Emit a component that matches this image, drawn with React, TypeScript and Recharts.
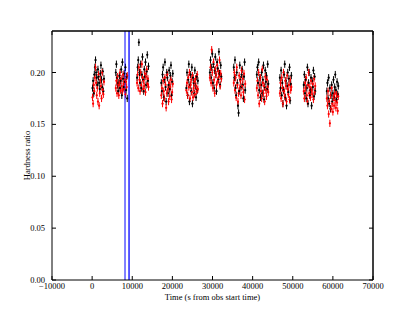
import React from 'react';
import { ScatterChart, Scatter, XAxis, YAxis, ErrorBar, ReferenceLine } from 'recharts';

const times = [
  100, 250, 400, 550, 700, 850, 1000, 1150, 1300, 1450, 1600, 1750, 1900, 2050, 2200, 2350, 2500, 2650, 2800, 2950,
  5900, 6050, 6200, 6350, 6500, 6650, 6800, 6950, 7100, 7250, 7400, 7550, 7700, 7850, 8000, 8150, 8300, 8450, 8600, 8750,
  11200, 11350, 11500, 11650, 11800, 11950, 12100, 12250, 12400, 12550, 12700, 12850, 13000, 13150, 13300, 13450, 13600, 13750, 13900, 14050,
  17250, 17400, 17550, 17700, 17850, 18000, 18150, 18300, 18450, 18600, 18750, 18900, 19050, 19200, 19350, 19500, 19650, 19800, 19950, 20100,
  23500, 23650, 23800, 23950, 24100, 24250, 24400, 24550, 24700, 24850, 25000, 25150, 25300, 25450, 25600, 25750, 25900, 26050, 26200, 26350,
  29350, 29500, 29650, 29800, 29950, 30100, 30250, 30400, 30550, 30700, 30850, 31000, 31150, 31300, 31450, 31600, 31750, 31900, 32050, 32200,
  35300, 35450, 35600, 35750, 35900, 36050, 36200, 36350, 36500, 36650, 36800, 36950, 37100, 37250, 37400, 37550, 37700, 37850, 38000, 38150,
  41050, 41200, 41350, 41500, 41650, 41800, 41950, 42100, 42250, 42400, 42550, 42700, 42850, 43000, 43150, 43300, 43450, 43600, 43750, 43900,
  46800, 46950, 47100, 47250, 47400, 47550, 47700, 47850, 48000, 48150, 48300, 48450, 48600, 48750, 48900, 49050, 49200, 49350, 49500, 49650,
  52750, 52900, 53050, 53200, 53350, 53500, 53650, 53800, 53950, 54100, 54250, 54400, 54550, 54700, 54850, 55000, 55150, 55300, 55450, 55600,
  58500, 58650, 58800, 58950, 59100, 59250, 59400, 59550, 59700, 59850, 60000, 60150, 60300, 60450, 60600, 60750, 60900, 61050, 61200, 61350,
];

const blackHR = [
  0.185, 0.192, 0.180, 0.198, 0.205, 0.212, 0.200, 0.195, 0.188, 0.203, 0.196, 0.190, 0.184, 0.199, 0.207, 0.193, 0.186, 0.201, 0.182, 0.194,
  0.200, 0.208, 0.195, 0.188, 0.182, 0.190, 0.197, 0.185, 0.192, 0.203, 0.178, 0.210, 0.194, 0.186, 0.199, 0.191, 0.205, 0.183, 0.196, 0.175,
  0.195, 0.205, 0.212, 0.229, 0.200, 0.190, 0.208, 0.185, 0.198, 0.215, 0.193, 0.182, 0.203, 0.196, 0.210, 0.188, 0.201, 0.217, 0.192, 0.206,
  0.190, 0.182, 0.198, 0.205, 0.176, 0.193, 0.210, 0.186, 0.172, 0.200, 0.195, 0.180, 0.188, 0.202, 0.184, 0.197, 0.207, 0.178, 0.191, 0.199,
  0.185, 0.200, 0.178, 0.193, 0.208, 0.172, 0.188, 0.198, 0.182, 0.205, 0.170, 0.195, 0.190, 0.180, 0.202, 0.187, 0.176, 0.196, 0.183, 0.192,
  0.200, 0.212, 0.195, 0.205, 0.218, 0.190, 0.208, 0.185, 0.202, 0.215, 0.198, 0.182, 0.210, 0.204, 0.193, 0.220, 0.199, 0.188, 0.207, 0.196,
  0.205, 0.195, 0.212, 0.185, 0.178, 0.200, 0.190, 0.168, 0.161, 0.182, 0.207, 0.193, 0.186, 0.198, 0.203, 0.188, 0.175, 0.196, 0.210, 0.183,
  0.198, 0.205, 0.190, 0.210, 0.183, 0.195, 0.176, 0.188, 0.200, 0.180, 0.193, 0.207, 0.174, 0.186, 0.202, 0.191, 0.197, 0.184, 0.208, 0.189,
  0.195, 0.185, 0.202, 0.178, 0.190, 0.170, 0.183, 0.198, 0.208, 0.176, 0.192, 0.168, 0.187, 0.200, 0.181, 0.194, 0.205, 0.173, 0.189, 0.197,
  0.188, 0.198, 0.180, 0.193, 0.175, 0.185, 0.205, 0.170, 0.190, 0.200, 0.178, 0.183, 0.195, 0.168, 0.192, 0.186, 0.202, 0.177, 0.196, 0.182,
  0.182, 0.190, 0.175, 0.195, 0.170, 0.185, 0.165, 0.178, 0.188, 0.172, 0.180, 0.193, 0.176, 0.186, 0.198, 0.183, 0.174, 0.191, 0.179, 0.187,
];

const redHR = [
  0.176, 0.170, 0.188, 0.182, 0.195, 0.205, 0.190, 0.178, 0.185, 0.172, 0.198, 0.168, 0.180, 0.193, 0.187, 0.175, 0.200, 0.183, 0.179, 0.191,
  0.185, 0.192, 0.180, 0.196, 0.188, 0.178, 0.190, 0.200, 0.183, 0.194, 0.187, 0.182, 0.198, 0.189, 0.184, 0.193, 0.179, 0.191, 0.186, 0.197,
  0.190, 0.198, 0.185, 0.205, 0.193, 0.182, 0.200, 0.188, 0.208, 0.195, 0.184, 0.192, 0.187, 0.199, 0.181, 0.196, 0.203, 0.189, 0.194, 0.186,
  0.178, 0.185, 0.170, 0.192, 0.182, 0.175, 0.195, 0.188, 0.166, 0.180, 0.198, 0.184, 0.172, 0.190, 0.177, 0.186, 0.193, 0.174, 0.181, 0.189,
  0.183, 0.190, 0.178, 0.195, 0.186, 0.200, 0.175, 0.188, 0.193, 0.181, 0.197, 0.176, 0.185, 0.191, 0.179, 0.194, 0.187, 0.182, 0.198, 0.184,
  0.195, 0.205, 0.190, 0.222, 0.200, 0.185, 0.210, 0.193, 0.180, 0.203, 0.198, 0.188, 0.207, 0.192, 0.201, 0.196, 0.212, 0.187, 0.199, 0.194,
  0.190, 0.200, 0.183, 0.195, 0.176, 0.205, 0.188, 0.172, 0.180, 0.197, 0.185, 0.192, 0.178, 0.202, 0.187, 0.194, 0.181, 0.199, 0.174, 0.189,
  0.185, 0.192, 0.178, 0.200, 0.170, 0.188, 0.195, 0.182, 0.175, 0.203, 0.190, 0.180, 0.187, 0.172, 0.196, 0.183, 0.177, 0.193, 0.186, 0.181,
  0.180, 0.190, 0.175, 0.195, 0.185, 0.170, 0.200, 0.182, 0.177, 0.192, 0.187, 0.172, 0.197, 0.184, 0.179, 0.188, 0.174, 0.193, 0.183, 0.186,
  0.182, 0.175, 0.190, 0.185, 0.195, 0.178, 0.172, 0.188, 0.200, 0.180, 0.186, 0.176, 0.192, 0.183, 0.179, 0.189, 0.174, 0.194, 0.181, 0.187,
  0.175, 0.168, 0.182, 0.160, 0.172, 0.151, 0.178, 0.165, 0.185, 0.170, 0.162, 0.176, 0.168, 0.180, 0.173, 0.166, 0.179, 0.171, 0.163, 0.177,
];

const xTicks = [-10000, 0, 10000, 20000, 30000, 40000, 50000, 60000, 70000];
const yTicks = [0, 0.05, 0.1, 0.15, 0.2];
const markerTimes = [8200, 9200];
const timeErr = 180;
const hrErr = 0.0035;

const blackData = times.map((t, i) => ({ t, hr: blackHR[i], xe: timeErr, ye: hrErr }));
const redData = times.map((t, i) => ({ t, hr: redHR[i], xe: timeErr, ye: hrErr }));

const FONT = '"Liberation Serif", "DejaVu Serif", serif';
const tickStyle = { fontSize: 8.5, fontFamily: FONT, fill: '#000' };

const fmtX = (v: number) => (v < 0 ? '\u2212' + Math.abs(v) : String(v));
const fmtY = (v: number) => v.toFixed(2);
const fmtNone = () => '';

const dot = (color: string) => (props: any) => (
  <circle cx={props.cx} cy={props.cy} r={1.1} fill={color} />
);

export default function App() {
  return (
    <div style={{ position: 'absolute', left: 0, top: 0, width: 415, height: 312, background: '#fff' }}>
      <ScatterChart width={415} height={312} margin={{ top: 30, right: 41, bottom: 0, left: 0 }}>
        <XAxis
          xAxisId="b"
          type="number"
          dataKey="t"
          domain={[-10000, 70000]}
          ticks={xTicks}
          tickFormatter={fmtX}
          allowDataOverflow
          height={32}
          tickSize={-4}
          tickMargin={7}
          stroke="#000"
          tick={tickStyle}
          label={{ value: 'Time (s from obs start time)', position: 'insideBottom', offset: 12, style: { fontSize: 8.5, fontFamily: FONT, fill: '#000' } }}
        />
        <XAxis
          xAxisId="top"
          orientation="top"
          type="number"
          dataKey="t"
          domain={[-10000, 70000]}
          ticks={xTicks}
          allowDataOverflow
          height={1}
          tickSize={-4}
          stroke="#000"
          tickFormatter={fmtNone}
          tick={tickStyle}
        />
        <YAxis
          yAxisId="l"
          type="number"
          dataKey="hr"
          domain={[0, 0.24]}
          ticks={yTicks}
          tickFormatter={fmtY}
          allowDataOverflow
          width={52}
          tickSize={-4}
          tickMargin={11}
          stroke="#000"
          tick={tickStyle}
          label={{ value: 'Hardness ratio', angle: -90, position: 'center', dx: 1, style: { fontSize: 8.5, fontFamily: FONT, fill: '#000', textAnchor: 'middle' } }}
        />
        <YAxis
          yAxisId="r"
          orientation="right"
          type="number"
          dataKey="hr"
          domain={[0, 0.24]}
          ticks={yTicks}
          allowDataOverflow
          width={1}
          tickSize={-4}
          stroke="#000"
          tickFormatter={fmtNone}
          tick={tickStyle}
        />
        <Scatter data={blackData} xAxisId="b" yAxisId="l" dataKey="hr" fill="#000" shape={dot('#000')} isAnimationActive={false}>
          <ErrorBar dataKey="ye" direction="y" width={0} stroke="#000" strokeWidth={1} />
          <ErrorBar dataKey="xe" direction="x" width={0} stroke="#000" strokeWidth={1} />
        </Scatter>
        <Scatter data={redData} xAxisId="b" yAxisId="l" dataKey="hr" fill="#ff0000" shape={dot('#ff0000')} isAnimationActive={false}>
          <ErrorBar dataKey="ye" direction="y" width={0} stroke="#ff0000" strokeWidth={1} />
          <ErrorBar dataKey="xe" direction="x" width={0} stroke="#ff0000" strokeWidth={1} />
        </Scatter>
        <ReferenceLine xAxisId="b" yAxisId="l" x={markerTimes[0]} stroke="#0000ff" strokeOpacity={0.5} strokeWidth={2} />
        <ReferenceLine xAxisId="b" yAxisId="l" x={markerTimes[1]} stroke="#0000ff" strokeWidth={1.3} />
        <ReferenceLine xAxisId="b" yAxisId="l" y={0.24} stroke="#000" />
        <ReferenceLine xAxisId="b" yAxisId="l" x={70000} stroke="#000" />
      </ScatterChart>
    </div>
  );
}
